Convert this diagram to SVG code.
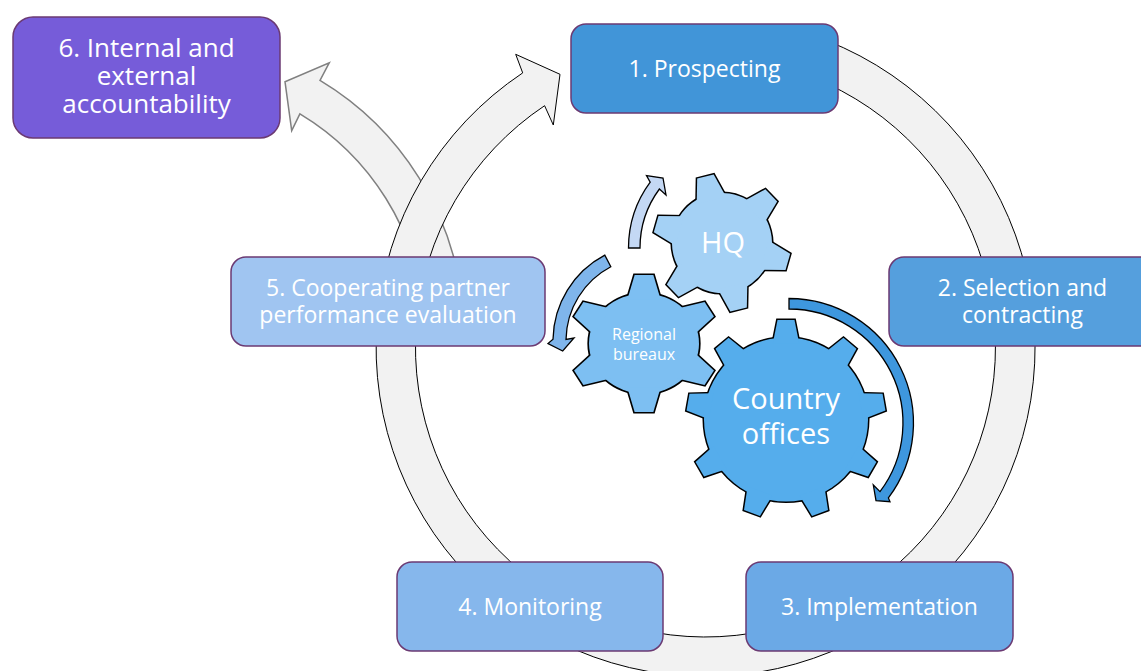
<svg xmlns="http://www.w3.org/2000/svg" width="1141" height="671" viewBox="0 0 1141 671">
<style>
  .box { stroke: #6B3A73; stroke-width: 1.5; }
  .lbl { font-family: "Open Sans", "Liberation Sans", sans-serif; fill: #FFFFFF; text-anchor: middle; }
  .t23 { font-size: 23px; }
  .t26 { font-size: 26px; }
  .t29 { font-size: 29px; }
  .t16 { font-size: 16px; }
  .ring { fill: #F2F2F2; stroke: #000000; stroke-width: 1; }
  .ring2 { fill: #F2F2F2; stroke: #808080; stroke-width: 1.5; }
  .garrow { stroke: #000000; stroke-width: 1.3; }
</style>
<defs>
  <polygon id="t6" points="-8.5,-68.5 8.5,-68.5 15.1,-44 -15.1,-44"/>
  <g id="gear6">
    <circle r="50"/>
    <use href="#t6"/>
    <use href="#t6" transform="rotate(60)"/>
    <use href="#t6" transform="rotate(120)"/>
    <use href="#t6" transform="rotate(180)"/>
    <use href="#t6" transform="rotate(240)"/>
    <use href="#t6" transform="rotate(300)"/>
  </g>
  <polygon id="t9" points="-8.5,-99.5 8.5,-99.5 13.2,-76 -13.2,-76"/>
  <g id="gear9">
    <circle r="82"/>
    <use href="#t9"/>
    <use href="#t9" transform="rotate(40)"/>
    <use href="#t9" transform="rotate(80)"/>
    <use href="#t9" transform="rotate(120)"/>
    <use href="#t9" transform="rotate(160)"/>
    <use href="#t9" transform="rotate(200)"/>
    <use href="#t9" transform="rotate(240)"/>
    <use href="#t9" transform="rotate(280)"/>
    <use href="#t9" transform="rotate(320)"/>
  </g>
</defs>

<g id="connectors">
  <path id="arrow-to-accountability" class="ring2" d="M 462.9 309.1 A 297 297 0 0 0 320.0 80.4 L 329.3 62.7 L 285 81.7 L 291.7 130.7 L 299.9 113.8 A 258 258 0 0 1 424.0 312.5 Z"/>
  <path id="cycle-ring" class="ring" d="M 790.8 28.7 A 329.5 329.5 0 1 1 522.7 72.9 L 515.7 54.3 L 560 74.3 L 553.3 125 L 544.6 105.7 A 290 290 0 1 0 780.6 66.9 Z"/>
  <path id="arrow-light" class="garrow" fill="#C4D8F4" d="M 628.5 248 A 111 111 0 0 1 650.2 182.1 L 646.5 175.5 L 663 178 L 666 195 L 659.4 189 A 99.5 99.5 0 0 0 640 248 Z"/>
  <path id="arrow-medium" class="garrow" fill="#7FB5EB" d="M 604.8 255.2 A 97 97 0 0 0 553 339.3 L 548 343.5 L 562.7 351 L 574 338 L 566 339.5 A 84 84 0 0 1 610.8 266.7 Z"/>
  <path id="arrow-dark" class="garrow" fill="#3E97DE" d="M 789 298.5 A 124.5 124.5 0 0 1 888.4 497.9 L 890 501.7 L 876 500.7 L 873.3 485 L 880 491.6 A 114 114 0 0 0 789 309 Z"/>
</g>

<g id="node-6">
  <rect class="box" x="13" y="17" width="267" height="121" rx="20" fill="#765CD9"/>
  <text class="lbl t26" x="146.5" y="56.7">6. Internal and</text>
  <text class="lbl t26" x="146.5" y="85">external</text>
  <text class="lbl t26" x="146.5" y="113.3">accountability</text>
</g>
<g id="node-1">
  <rect class="box" x="571" y="24" width="267" height="89" rx="15" fill="#4195D8"/>
  <text class="lbl t23" x="704.5" y="76.5">1. Prospecting</text>
</g>
<g id="node-2">
  <rect class="box" x="889" y="257" width="267" height="89" rx="15" fill="#559FDD"/>
  <text class="lbl t23" x="1022.5" y="295.5">2. Selection and</text>
  <text class="lbl t23" x="1022.5" y="323">contracting</text>
</g>
<g id="node-3">
  <rect class="box" x="746" y="562" width="267" height="89" rx="15" fill="#6BA9E6"/>
  <text class="lbl t23" x="879.5" y="614.5">3. Implementation</text>
</g>
<g id="node-4">
  <rect class="box" x="397" y="562" width="266" height="89" rx="15" fill="#86B7EC"/>
  <text class="lbl t23" x="530" y="614.5">4. Monitoring</text>
</g>
<g id="node-5">
  <rect class="box" x="231" y="257" width="314" height="89" rx="15" fill="#A0C5F1"/>
  <text class="lbl t23" x="388" y="295.5">5. Cooperating partner</text>
  <text class="lbl t23" x="388" y="323">performance evaluation</text>
</g>

<g id="gear-hq">
  <g transform="translate(722,243) rotate(-14)">
    <use href="#gear6" fill="#A4D1F5" stroke="#000000" stroke-width="3"/>
    <use href="#gear6" fill="#A4D1F5" stroke="none"/>
  </g>
  <text class="lbl t29" x="723" y="253">HQ</text>
</g>
<g id="gear-regional">
  <g transform="translate(644,343.5) scale(1.1,1)">
    <use href="#gear6" fill="#7DBFF2" stroke="#000000" stroke-width="3"/>
    <use href="#gear6" fill="#7DBFF2" stroke="none"/>
  </g>
  <text class="lbl t16" x="644" y="340">Regional</text>
  <text class="lbl t16" x="644" y="359.5">bureaux</text>
</g>
<g id="gear-country">
  <g transform="translate(786,419.5)">
    <use href="#gear9" fill="#55ADEC" stroke="#000000" stroke-width="3"/>
    <use href="#gear9" fill="#55ADEC" stroke="none"/>
  </g>
  <text class="lbl t29" x="786" y="408.5">Country</text>
  <text class="lbl t29" x="786" y="443.5">offices</text>
</g>
</svg>
